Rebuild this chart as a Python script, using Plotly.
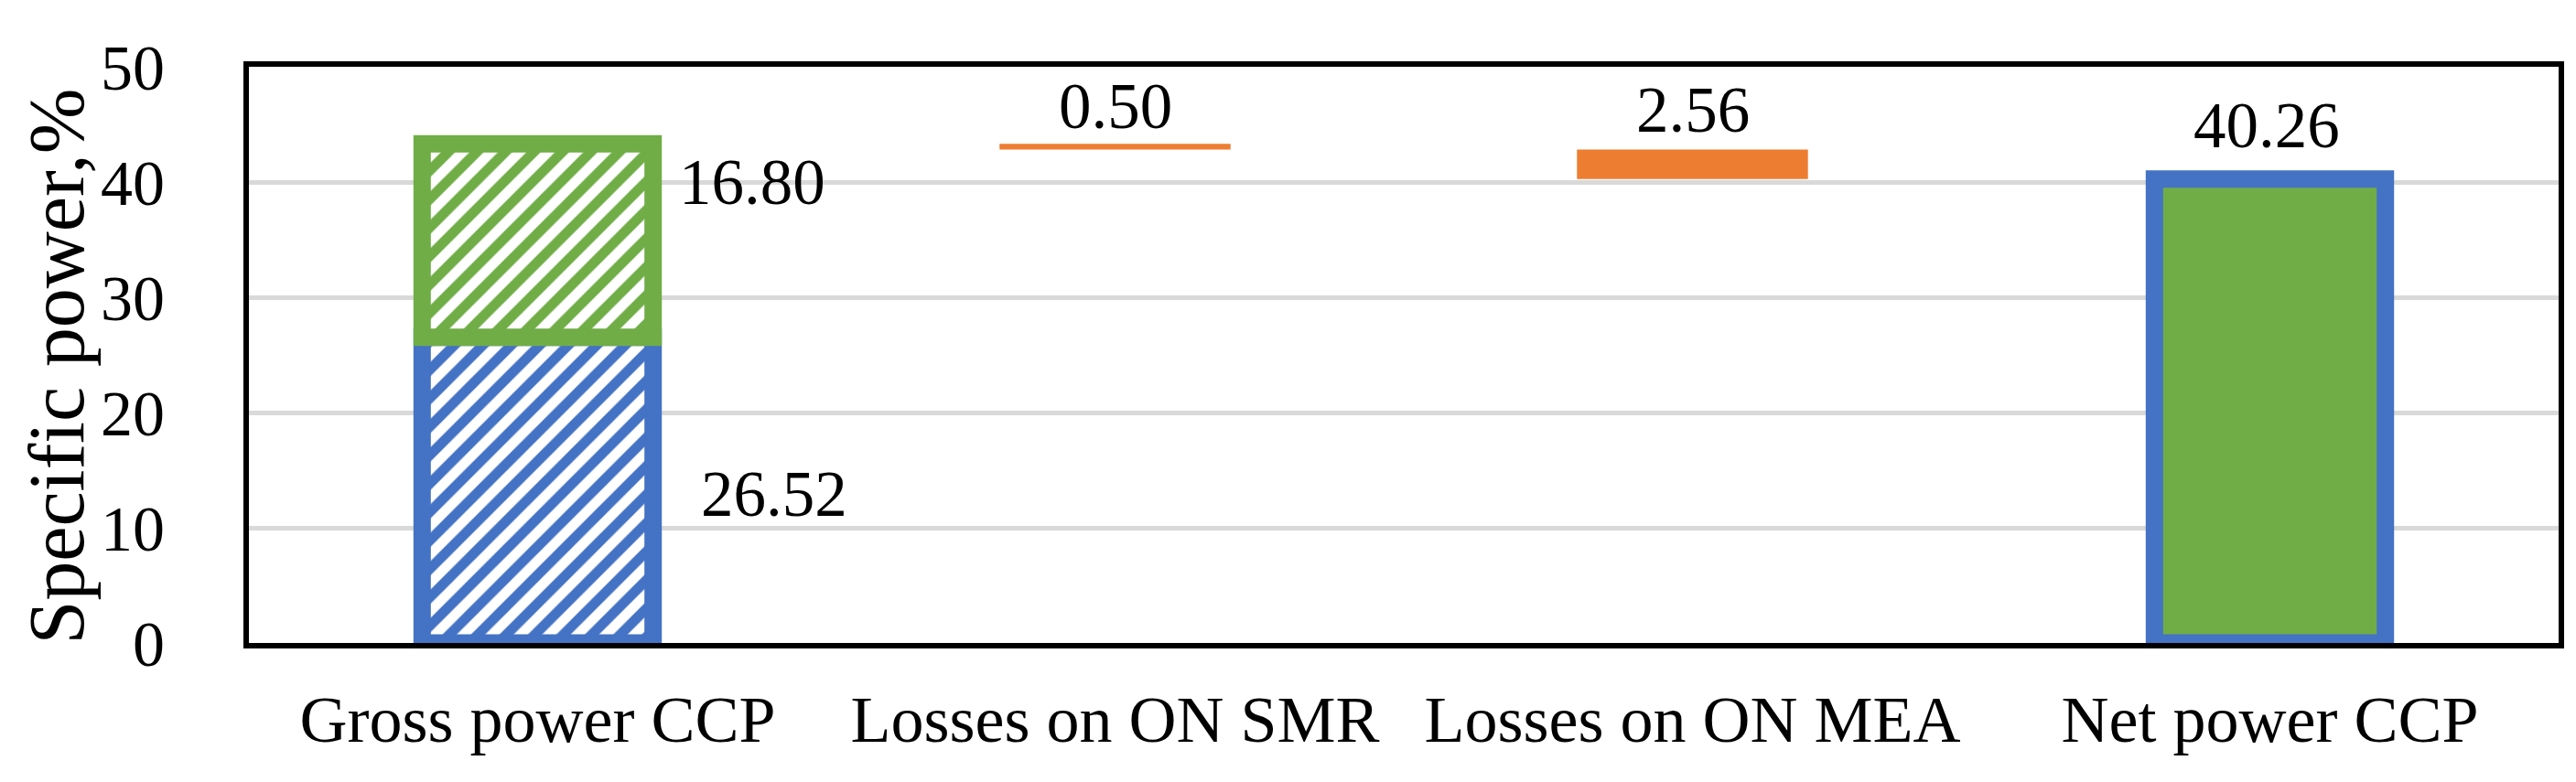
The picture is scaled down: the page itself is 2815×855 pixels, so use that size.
import plotly.graph_objects as go

# ---- data ----
categories = ["Gross power CCP", "Losses on ON SMR", "Losses on ON MEA", "Net power CCP"]
gross_part_a = 26.52   # blue hatched segment
gross_part_b = 16.80   # green hatched segment
loss_smr = 0.50
loss_mea = 2.56
net_power = 40.26
y_ticks = [0, 10, 20, 30, 40, 50]
y_title = "Specific power,%"

BLUE = "#4472C4"
GREEN = "#70AD47"
ORANGE = "#ED7D31"
FONT = "Liberation Serif"
FS = 71
FS_TICK = 70
FS_TITLE = 86

gross_total = gross_part_a + gross_part_b
smr_base = gross_total - loss_smr
mea_base = smr_base - loss_mea

fig = go.Figure()

def hatched(x, y, base, color):
    return go.Bar(
        x=[x], y=[y], base=[base], width=0.4,
        marker=dict(
            color="white",
            line=dict(color=color, width=19),
            pattern=dict(shape="/", fgcolor=color, bgcolor="white",
                         size=22, solidity=0.5, fillmode="replace"),
        ),
        showlegend=False, hoverinfo="skip",
    )

fig.add_trace(hatched(categories[0], gross_part_a, 0, BLUE))
fig.add_trace(hatched(categories[0], gross_part_b, gross_part_a, GREEN))
fig.add_trace(go.Bar(x=[categories[1]], y=[loss_smr], base=[smr_base], width=0.4,
                     marker=dict(color=ORANGE, line=dict(width=0)),
                     showlegend=False, hoverinfo="skip"))
fig.add_trace(go.Bar(x=[categories[2]], y=[loss_mea], base=[mea_base], width=0.4,
                     marker=dict(color=ORANGE, line=dict(width=0)),
                     showlegend=False, hoverinfo="skip"))
fig.add_trace(go.Bar(x=[categories[3]], y=[net_power], base=[0], width=0.4,
                     marker=dict(color=GREEN, line=dict(color=BLUE, width=19)),
                     showlegend=False, hoverinfo="skip"))

tf = dict(family=FONT, size=FS, color="black")
tick_font = dict(family=FONT, size=FS_TICK, color="black")
annotations = [
    dict(x=categories[0], y=gross_total, text=f"{gross_part_b:.2f}", xanchor="left",
         yanchor="middle", xshift=152, yshift=-42, showarrow=False, font=tf),
    dict(x=categories[0], y=gross_part_a / 2, text=f"{gross_part_a:.2f}", xanchor="left",
         yanchor="middle", xshift=176, yshift=-4, showarrow=False, font=tf),
    dict(x=categories[1], y=gross_total, text=f"{loss_smr:.2f}", xanchor="center",
         yanchor="bottom", yshift=0, showarrow=False, font=tf),
    dict(x=categories[2], y=smr_base, text=f"{loss_mea:.2f}", xanchor="center",
         yanchor="bottom", yshift=2, showarrow=False, font=tf),
    dict(x=categories[3], y=net_power, text=f"{net_power:.2f}", xanchor="center",
         yanchor="bottom", yshift=18, xshift=-4, showarrow=False, font=tf),
    dict(x=0, xref="paper", y=0.48, yref="paper", text=y_title, textangle=-90,
         xanchor="center", yanchor="middle", xshift=-210, showarrow=False,
         font=dict(family=FONT, size=FS_TITLE, color="black")),
]

fig.update_layout(
    width=2815, height=855,
    margin=dict(l=264, r=27, t=65, b=160),
    paper_bgcolor="white", plot_bgcolor="white",
    barmode="overlay",
    annotations=annotations,
    font=tf,
)
fig.update_xaxes(
    type="category", categoryorder="array", categoryarray=categories,
    showline=True, linecolor="black", linewidth=6, mirror=True,
    showgrid=False, ticks="", tickfont=dict(family=FONT, size=72, color="black"),
    ticklabelstandoff=16,
)
fig.update_yaxes(
    range=[0, 50], tickvals=y_ticks, showline=True, linecolor="black",
    linewidth=6, mirror=True, showgrid=True, gridcolor="#D9D9D9", gridwidth=5,
    zeroline=False, ticks="", tickfont=tick_font, ticklabelstandoff=72,
    automargin=False,
)

fig.write_html("out.html")
